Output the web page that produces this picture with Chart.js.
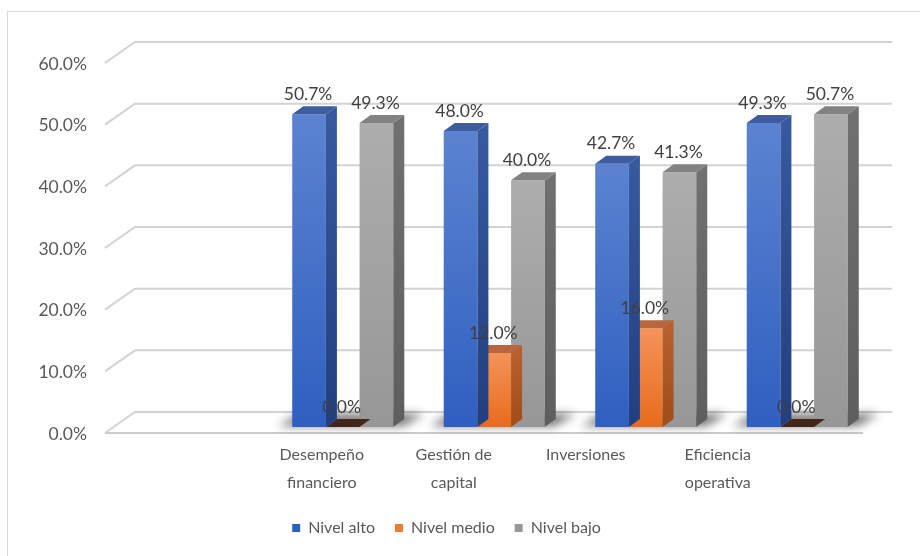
<!DOCTYPE html>
<html>
<head>
<meta charset="utf-8">
<script src="https://cdn.jsdelivr.net/npm/chart.js@4/dist/chart.umd.min.js"></script>
<style>
  html, body { margin: 0; padding: 0; background: #fff; overflow: hidden; }
  #frame { position: absolute; left: 7px; top: 11px; width: 940px; height: 580px; border: 1px solid #d9d9d9; }
  #wrap { position: absolute; left: 0; top: 0; width: 920px; height: 556px; }
</style>
</head>
<body>
<div id="frame"></div>
<div id="wrap"><canvas id="chart" width="920" height="556"></canvas></div>
<script>
// datos
const categories = [['Desempeño', 'financiero'], ['Gestión de', 'capital'], ['Inversiones'], ['Eficiencia', 'operativa']];
const seriesNames = ['Nivel alto', 'Nivel medio', 'Nivel bajo'];
const nivelAlto = [50.7, 48.0, 42.7, 49.3];
const nivelMedio = [0.0, 12.0, 16.0, 0.0];
const nivelBajo = [49.3, 40.0, 41.3, 50.7];
const yMax = 60;
const yStep = 10;

// estilo 3D
const DX = 11, DY = 8;
const palette = [
    { flat: '#4472c4', light: '#5b83d0', dark: '#2f5fc0', side: ['#37599e', '#213f80'], top: '#3e5c9f' },
    { flat: '#ed7d31', light: '#f49359', dark: '#e86b1c', side: ['#b8602c', '#a04c18'], top: '#b9663c', zeroTop: '#45261a' },
    { flat: '#a5a5a5', light: '#adadad', dark: '#979797', side: ['#707070', '#5e5e5e'], top: '#828282' }
];
const FONT = 'Lato, "Open Sans", sans-serif';

function frontFill(p) {
    return (ctx) => {
        const chart = ctx.chart;
        if (ctx.type !== 'data' || !chart.chartArea) return p.flat;
        const y = chart.scales.y;
        const top = y.getPixelForValue(ctx.raw);
        const bottom = y.getPixelForValue(0);
        if (bottom - top < 1) return p.flat;
        const g = chart.ctx.createLinearGradient(0, top, 0, bottom);
        g.addColorStop(0, p.light);
        g.addColorStop(1, p.dark);
        return g;
    };
}

// paredes y piso
const wallPlugin = {
    id: 'wall',
    beforeDatasetsDraw(chart) {
        const ctx = chart.ctx;
        const y = chart.scales.y;
        const frontX = 105, backX = 135, rightX = 892;
        ctx.save();
        ctx.lineWidth = 2;
        ctx.strokeStyle = '#d3d3d3';
        y.ticks.forEach(t => {
            const py = y.getPixelForValue(t.value);
            ctx.beginPath();
            ctx.moveTo(frontX, py + 6);
            ctx.lineTo(backX, py - 15);
            ctx.lineTo(rightX, py - 15);
            ctx.stroke();
        });
        const p0 = y.getPixelForValue(0);
        ctx.strokeStyle = '#cccccc';
        ctx.beginPath();
        ctx.moveTo(frontX, p0 + 6);
        ctx.lineTo(863, p0 + 6);
        ctx.stroke();

        // sombras en el piso
        const first = chart.getDatasetMeta(0).data;
        const last = chart.getDatasetMeta(2).data;
        ctx.filter = 'blur(5px)';
        ctx.fillStyle = 'rgba(0,0,0,0.55)';
        first.forEach((b, i) => {
            const l = b.x - b.width / 2;
            const r = last[i].x + last[i].width / 2;
            ctx.beginPath();
            ctx.moveTo(l - 14, p0 - 1);
            ctx.lineTo(r + 10, p0 - 1);
            ctx.lineTo(r + DX + 20, p0 - DY - 5);
            ctx.lineTo(l + DX - 4, p0 - DY - 5);
            ctx.closePath();
            ctx.fill();
        });
        ctx.restore();
    }
};

// caras superior y lateral
const box3dPlugin = {
    id: 'box3d',
    afterDatasetDraw(chart, args) {
        const ctx = chart.ctx;
        const p = palette[args.index];
        const values = chart.data.datasets[args.index].data;
        ctx.save();
        args.meta.data.forEach((b, i) => {
            const l = b.x - b.width / 2, r = b.x + b.width / 2;
            const top = b.y, bottom = b.base;
            if (bottom - top > 0.5) {
                const g = ctx.createLinearGradient(0, top, 0, bottom);
                g.addColorStop(0, p.side[0]);
                g.addColorStop(1, p.side[1]);
                ctx.fillStyle = g;
                ctx.beginPath();
                ctx.moveTo(r, top);
                ctx.lineTo(r + DX, top - DY);
                ctx.lineTo(r + DX, bottom - DY);
                ctx.lineTo(r, bottom);
                ctx.closePath();
                ctx.fill();
            }
            ctx.fillStyle = values[i] === 0 && p.zeroTop ? p.zeroTop : p.top;
            ctx.beginPath();
            ctx.moveTo(l, top);
            ctx.lineTo(r, top);
            ctx.lineTo(r + DX, top - DY);
            ctx.lineTo(l + DX, top - DY);
            ctx.closePath();
            ctx.fill();
        });
        ctx.restore();
    }
};

// etiquetas de datos
const valueLabels = {
    id: 'valueLabels',
    afterDatasetsDraw(chart) {
        const ctx = chart.ctx;
        ctx.save();
        ctx.font = '17.5px ' + FONT;
        ctx.fillStyle = '#404040';
        ctx.textAlign = 'center';
        ctx.textBaseline = 'middle';
        chart.data.datasets.forEach((ds, di) => {
            chart.getDatasetMeta(di).data.forEach((b, i) => {
                ctx.fillText(ds.data[i].toFixed(1) + '%', b.x - 1, b.y - 20);
            });
        });
        ctx.restore();
    }
};

const seriesData = [nivelAlto, nivelMedio, nivelBajo];

new Chart(document.getElementById('chart'), {
    type: 'bar',
    data: {
        labels: categories.map(c => c.join(' ')),
        datasets: seriesData.map((d, i) => ({
            label: seriesNames[i],
            data: d,
            backgroundColor: frontFill(palette[i]),
            borderWidth: 0,
            categoryPercentage: 0.667,
            barPercentage: 1.0,
            xAxisID: 'x',
            yAxisID: 'y'
        }))
    },
    options: {
        responsive: false,
        animation: false,
        layout: { padding: { left: 0, right: 27, top: 57, bottom: 10 } },
        scales: {
            x: { type: 'category', display: false, offset: true },
            xl: {
                type: 'linear',
                position: 'bottom',
                offset: false,
                min: -0.415,
                max: 4.176,
                afterBuildTicks: s => { s.ticks = categories.map((c, i) => ({ value: i })); },
                afterFit: s => { s.height = 73; },
                grid: { display: false, drawTicks: false },
                border: { display: false },
                ticks: {
                    callback: v => categories[v],
                    autoSkip: false,
                    maxRotation: 0,
                    padding: 14,
                    color: '#595959',
                    font: { family: FONT, size: 16, lineHeight: 1.75 }
                }
            },
            y: {
                position: 'left',
                weight: 1,
                min: 0,
                max: yMax,
                afterFit: s => { s.width = 95; },
                grid: { display: false, drawTicks: false },
                border: { display: false },
                ticks: {
                    stepSize: yStep,
                    padding: 8,
                    labelOffset: 7,
                    color: '#595959',
                    font: { family: FONT, size: 17.5 },
                    callback: v => v.toFixed(1) + '%'
                }
            },
            ys: {
                type: 'linear',
                position: 'left',
                weight: 0,
                afterFit: s => { s.width = 172; },
                grid: { display: false },
                border: { display: false },
                ticks: { display: false }
            },
            yr: {
                type: 'linear',
                position: 'right',
                afterFit: s => { s.width = 20; },
                grid: { display: false },
                border: { display: false },
                ticks: { display: false }
            }
        },
        plugins: {
            legend: {
                position: 'bottom',
                labels: {
                    boxWidth: 8,
                    boxHeight: 8,
                    padding: 20,
                    color: '#595959',
                    font: { family: FONT, size: 16 }
                }
            },
            tooltip: { enabled: false }
        }
    },
    plugins: [wallPlugin, box3dPlugin, valueLabels]
});
</script>
</body>
</html>
